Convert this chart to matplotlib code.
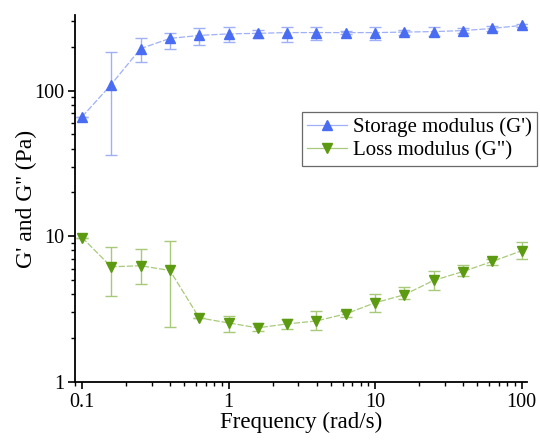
import matplotlib
matplotlib.use("Agg")
import matplotlib.pyplot as plt
from matplotlib.lines import Line2D
from matplotlib.ticker import LogLocator, FixedLocator, FixedFormatter, NullFormatter

plt.rcParams["font.family"] = ["Liberation Serif", "DejaVu Serif"]

# angular frequency sweep (rad/s), 5 points per decade
freq = [0.1, 0.158, 0.251, 0.398, 0.631, 1.0, 1.58, 2.51, 3.98, 6.31,
        10.0, 15.8, 25.1, 39.8, 63.1, 100.0]

# storage modulus G' (Pa) with lower / upper error bounds
g_store = [66, 110, 194, 228, 239, 245, 247, 250, 250, 250,
           250, 252, 254, 258, 267, 280]
g_store_lo = [66, 36, 156, 194, 207, 214, 228, 217, 222, 245,
              222, 240, 238, 248, 258, 272]
g_store_hi = [66, 185, 228, 250, 267, 271, 262, 275, 273, 255,
              275, 262, 272, 268, 276, 288]

# loss modulus G'' (Pa) with lower / upper error bounds
g_loss = [9.8, 6.17, 6.27, 5.82, 2.75, 2.54, 2.35, 2.5, 2.62, 2.93,
          3.49, 3.96, 4.97, 5.72, 6.71, 7.94]
g_loss_lo = [9.8, 3.9, 4.7, 2.39, 2.75, 2.2, 2.25, 2.3, 2.28, 2.8,
             3.03, 3.7, 4.29, 5.3, 6.3, 7.0]
g_loss_hi = [9.8, 8.47, 8.2, 9.3, 2.75, 2.84, 2.54, 2.7, 3.07, 3.05,
             4.03, 4.45, 5.73, 6.3, 7.0, 9.17]

blue = "#4a6cf2"
blue_err = "#9fb0f6"
green = "#5c9a12"
green_err = "#a9c97a"

fig = plt.figure(figsize=(5.4, 4.42), dpi=100)
ax = fig.add_axes([0.139, 0.136, 0.837, 0.830])


def err(y, lo, hi):
    return [[v - l for v, l in zip(y, lo)], [h - v for v, h in zip(y, hi)]]


ax.errorbar(freq, g_store, yerr=err(g_store, g_store_lo, g_store_hi),
            fmt="none", ecolor=blue_err, elinewidth=1.0, capsize=4,
            capthick=1.0, zorder=2)
ax.plot(freq, g_store, color=blue_err, lw=0.9, ls=(0, (5, 1.5)),
        marker="^", ms=7.5, mfc=blue, mec=blue, zorder=3)

ax.errorbar(freq, g_loss, yerr=err(g_loss, g_loss_lo, g_loss_hi),
            fmt="none", ecolor=green_err, elinewidth=1.0, capsize=4,
            capthick=1.0, zorder=2)
ax.plot(freq, g_loss, color=green_err, lw=0.9, ls=(0, (5, 1.5)),
        marker="v", ms=7.5, mfc=green, mec=green, zorder=3)

ax.set_xscale("log")
ax.set_yscale("log")
ax.set_xlim(0.0896, 109)
ax.set_ylim(1, 330)

ax.xaxis.set_major_locator(FixedLocator([0.1, 1, 10, 100]))
ax.xaxis.set_major_formatter(FixedFormatter(["0.1", "1", "10", "100"]))
ax.xaxis.set_minor_locator(LogLocator(base=10, subs=range(2, 10), numticks=20))
ax.xaxis.set_minor_formatter(NullFormatter())
ax.yaxis.set_major_locator(FixedLocator([1, 10, 100]))
ax.yaxis.set_major_formatter(FixedFormatter(["1", "10", "100"]))
ax.yaxis.set_minor_locator(LogLocator(base=10, subs=range(2, 10), numticks=20))
ax.yaxis.set_minor_formatter(NullFormatter())

for side in ("top", "right"):
    ax.spines[side].set_visible(False)
for side in ("left", "bottom"):
    ax.spines[side].set_linewidth(1.3)
ax.tick_params(which="major", direction="out", length=5, width=1.2,
               labelsize=14.5, pad=3)
ax.tick_params(which="minor", direction="out", length=3, width=1.0)

ax.set_xlabel("Frequency (rad/s)", fontsize=16.5, labelpad=0)
ax.set_ylabel("G' and G'' (Pa)", fontsize=17, labelpad=-2)

# legend keys: thin solid line with a small marker
handles = [
    Line2D([], [], color=blue_err, lw=0.9, marker="^", ms=6.5,
           mfc=blue, mec=blue),
    Line2D([], [], color=green_err, lw=0.9, marker="v", ms=6.5,
           mfc=green, mec=green),
]
labels = ["Storage modulus (G')", "Loss modulus (G\")"]
leg = ax.legend(handles, labels, loc="upper right",
                bbox_to_anchor=(1.022, 0.736),
                fontsize=15, frameon=True, fancybox=False,
                edgecolor="#444444", handlelength=1.9, handletextpad=0.3,
                borderpad=0.25, labelspacing=0.2, borderaxespad=0)
leg.get_frame().set_linewidth(0.9)

fig.savefig("out.png", dpi=100)
